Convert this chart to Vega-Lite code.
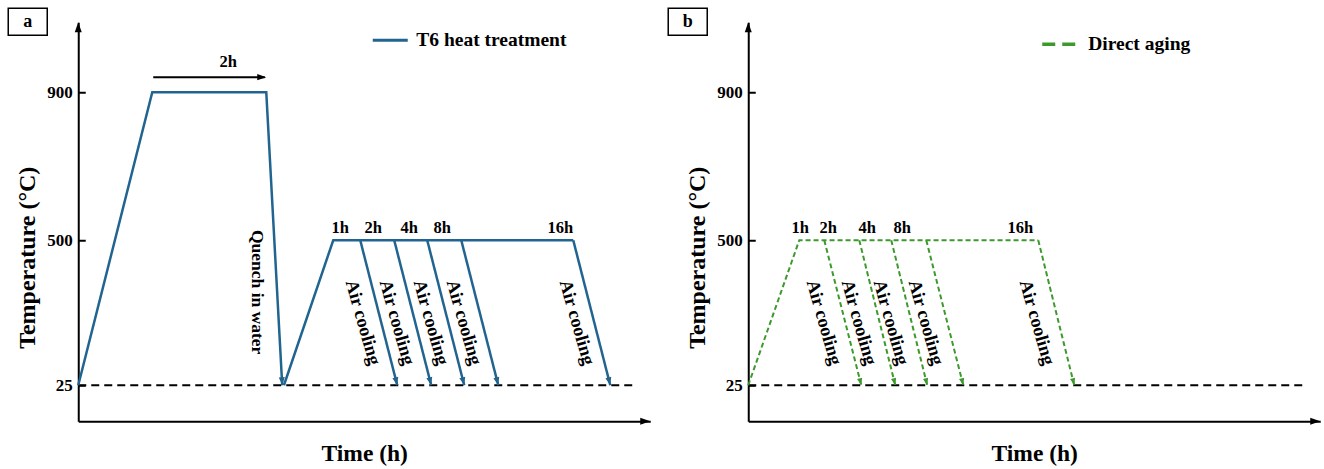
{
  "$schema": "https://vega.github.io/schema/vega-lite/v6.json",
  "background": "white",
  "padding": {"left": 7.25, "top": 7.25, "right": 2, "bottom": 2},
  "bounds": "flush",
  "spacing": 98,
  "config": {
    "view": {"stroke": null},
    "font": "Liberation Serif",
    "axis": {"labelFont": "Liberation Serif", "titleFont": "Liberation Serif", "labelFontWeight": "bold", "titleFontWeight": "bold", "labelColor": "black", "titleColor": "black", "domainColor": "black", "tickColor": "black", "grid": false},
    "text": {"font": "Liberation Serif", "fontWeight": "bold", "color": "black"}
  },
  "datasets": {
    "pathA": [
      {"seg": "solution", "ord": 1, "t": 0, "T": 25, "process": "T6 heat treatment"},
      {"seg": "solution", "ord": 2, "t": 12.94, "T": 900, "process": "T6 heat treatment"},
      {"seg": "solution", "ord": 3, "t": 32.87, "T": 900, "process": "T6 heat treatment"},
      {"seg": "solution", "ord": 4, "t": 35.66, "T": 25, "process": "T6 heat treatment"},
      {"seg": "aging", "ord": 1, "t": 35.96, "T": 25, "process": "T6 heat treatment"},
      {"seg": "aging", "ord": 2, "t": 44.58, "T": 500, "process": "T6 heat treatment"},
      {"seg": "aging", "ord": 3, "t": 86.54, "T": 500, "process": "T6 heat treatment"},
      {"seg": "cool1", "ord": 1, "t": 49.3, "T": 500, "process": "T6 heat treatment"},
      {"seg": "cool1", "ord": 2, "t": 55.77, "T": 25, "process": "T6 heat treatment"},
      {"seg": "cool2", "ord": 1, "t": 55.24, "T": 500, "process": "T6 heat treatment"},
      {"seg": "cool2", "ord": 2, "t": 61.71, "T": 25, "process": "T6 heat treatment"},
      {"seg": "cool4", "ord": 1, "t": 61.01, "T": 500, "process": "T6 heat treatment"},
      {"seg": "cool4", "ord": 2, "t": 67.48, "T": 25, "process": "T6 heat treatment"},
      {"seg": "cool8", "ord": 1, "t": 66.96, "T": 500, "process": "T6 heat treatment"},
      {"seg": "cool8", "ord": 2, "t": 73.43, "T": 25, "process": "T6 heat treatment"},
      {"seg": "cool16", "ord": 1, "t": 86.54, "T": 500, "process": "T6 heat treatment"},
      {"seg": "cool16", "ord": 2, "t": 93.01, "T": 25, "process": "T6 heat treatment"}
    ],
    "pathB": [
      {"seg": "aging", "ord": 1, "t": 0, "T": 25, "process": "Direct aging"},
      {"seg": "aging", "ord": 2, "t": 8.92, "T": 500, "process": "Direct aging"},
      {"seg": "aging", "ord": 3, "t": 50.7, "T": 500, "process": "Direct aging"},
      {"seg": "cool1", "ord": 1, "t": 13.29, "T": 500, "process": "Direct aging"},
      {"seg": "cool1", "ord": 2, "t": 19.76, "T": 25, "process": "Direct aging"},
      {"seg": "cool2", "ord": 1, "t": 19.41, "T": 500, "process": "Direct aging"},
      {"seg": "cool2", "ord": 2, "t": 25.7, "T": 25, "process": "Direct aging"},
      {"seg": "cool4", "ord": 1, "t": 25.0, "T": 500, "process": "Direct aging"},
      {"seg": "cool4", "ord": 2, "t": 31.29, "T": 25, "process": "Direct aging"},
      {"seg": "cool8", "ord": 1, "t": 31.12, "T": 500, "process": "Direct aging"},
      {"seg": "cool8", "ord": 2, "t": 37.59, "T": 25, "process": "Direct aging"},
      {"seg": "cool16", "ord": 1, "t": 50.7, "T": 500, "process": "Direct aging"},
      {"seg": "cool16", "ord": 2, "t": 56.99, "T": 25, "process": "Direct aging"}
    ]
  },
  "resolve": {"scale": {"x": "independent", "y": "independent", "color": "independent"}, "axis": {"x": "independent", "y": "independent"}, "legend": {"color": "independent"}},
  "hconcat": [
    {
      "width": 572,
      "height": 399,
      "encoding": {
        "x": {"field": "t", "type": "quantitative", "scale": {"domain": [0, 100], "nice": false, "zero": false}, "axis": {"title": "Time (h)", "labels": false, "ticks": false, "domainWidth": 2, "titleFontSize": 23.5, "titlePadding": 20}},
        "y": {"field": "T", "type": "quantitative", "scale": {"domain": [-100, 25, 500, 900, 1100], "range": [399, 363, 218, 70, 0], "nice": false, "zero": false}, "axis": {"title": "Temperature (°C)", "values": [25, 500, 900], "tickSize": -7, "tickWidth": 2, "labelFontSize": 17, "labelPadding": 13, "domainWidth": 2, "titleFontSize": 24, "titlePadding": 7, "titleY": 235}}
      },
      "layer": [
        {"data": {"values": [{"t": 0, "t2": 96.85, "T": 25}]}, "mark": {"type": "rule", "color": "black", "strokeWidth": 2, "strokeDash": [8, 5]}, "encoding": {"x2": {"field": "t2"}}},
        {"data": {"name": "pathA"}, "mark": {"type": "line", "strokeWidth": 2.5}, "encoding": {
          "color": {"field": "process", "type": "nominal", "scale": {"domain": ["T6 heat treatment"], "range": ["#21648f"]}, "legend": {"title": null, "orient": "none", "legendX": 293, "legendY": -1, "symbolType": "stroke", "symbolSize": 1225, "symbolStrokeWidth": 3, "labelFont": "Liberation Serif", "labelFontSize": 19.5, "labelFontWeight": "bold", "labelColor": "black", "labelOffset": 7}},
          "detail": {"field": "seg"},
          "order": {"field": "ord"}}},
        {"data": {"values": [{"t": 55.77, "T": 25}, {"t": 61.71, "T": 25}, {"t": 67.48, "T": 25}, {"t": 73.43, "T": 25}, {"t": 93.01, "T": 25}]}, "mark": {"type": "point", "shape": "M0,0L-0.75,-2L0.75,-2Z", "size": 64, "filled": true, "opacity": 1, "color": "#21648f", "angle": -14}},
        {"data": {"values": [{"t": 35.66, "T": 25}]}, "mark": {"type": "point", "shape": "M0,0L-0.75,-2L0.75,-2Z", "size": 64, "filled": true, "opacity": 1, "color": "#21648f", "angle": -3}},
        {"data": {"values": [{"t": 13.11, "t2": 32.6, "T": 943}]}, "mark": {"type": "rule", "color": "black", "strokeWidth": 2}, "encoding": {"x2": {"field": "t2"}}},
        {"data": {"values": [{"t": 32.87, "T": 943}]}, "mark": {"type": "point", "shape": "M0,0L-0.7,-2L0.7,-2Z", "size": 81, "filled": true, "opacity": 1, "color": "black", "angle": -90}},
        {"data": {"values": [{"t": 0, "T": 1100}]}, "mark": {"type": "point", "shape": "M0,0L-0.7,-2L0.7,-2Z", "size": 100, "filled": true, "opacity": 1, "color": "black", "angle": 180}},
        {"data": {"values": [{"t": 100, "T": -100}]}, "mark": {"type": "point", "shape": "M0,0L-0.7,-2L0.7,-2Z", "size": 100, "filled": true, "opacity": 1, "color": "black", "angle": -90}},
        {"data": {"values": [{"t": 45.8, "T": 500, "label": "1h"}, {"t": 51.57, "T": 500, "label": "2h"}, {"t": 57.87, "T": 500, "label": "4h"}, {"t": 63.64, "T": 500, "label": "8h"}, {"t": 84.27, "T": 500, "label": "16h"}]}, "mark": {"type": "text", "fontSize": 16.5, "dy": -12}, "encoding": {"text": {"field": "label"}}},
        {"data": {"values": [{"t": 49.83, "T": 231, "label": "Air cooling"}, {"t": 55.77, "T": 231, "label": "Air cooling"}, {"t": 61.71, "T": 231, "label": "Air cooling"}, {"t": 67.48, "T": 231, "label": "Air cooling"}, {"t": 87.24, "T": 231, "label": "Air cooling"}]}, "mark": {"type": "text", "fontSize": 18.5, "angle": 74}, "encoding": {"text": {"field": "label"}}},
        {"data": {"values": [{"t": 31.29, "T": 330, "label": "Quench in water"}]}, "mark": {"type": "text", "fontSize": 17.5, "angle": 90}, "encoding": {"text": {"field": "label"}}},
        {"data": {"values": [{"t": 26.22, "T": 986, "label": "2h"}]}, "mark": {"type": "text", "fontSize": 16.5}, "encoding": {"text": {"field": "label"}}},
        {"data": {"values": [{"t": -12.24, "t2": -5.42, "T": 1063, "T2": 1140}]}, "mark": {"type": "rect", "fill": "white", "stroke": "black", "strokeWidth": 1.5}, "encoding": {"x2": {"field": "t2"}, "y2": {"field": "T2"}}},
        {"data": {"values": [{"t": -8.83, "T": 1101.5, "label": "a"}]}, "mark": {"type": "text", "fontSize": 18}, "encoding": {"text": {"field": "label"}}}
      ]
    },
    {
      "width": 572,
      "height": 399,
      "encoding": {
        "x": {"field": "t", "type": "quantitative", "scale": {"domain": [0, 100], "nice": false, "zero": false}, "axis": {"title": "Time (h)", "labels": false, "ticks": false, "domainWidth": 2, "titleFontSize": 23.5, "titlePadding": 20}},
        "y": {"field": "T", "type": "quantitative", "scale": {"domain": [-100, 25, 500, 900, 1100], "range": [399, 363, 218, 70, 0], "nice": false, "zero": false}, "axis": {"title": "Temperature (°C)", "values": [25, 500, 900], "tickSize": -7, "tickWidth": 2, "labelFontSize": 17, "labelPadding": 13, "domainWidth": 2, "titleFontSize": 24, "titlePadding": 7, "titleY": 235}}
      },
      "layer": [
        {"data": {"values": [{"t": 0, "t2": 97.03, "T": 25}]}, "mark": {"type": "rule", "color": "black", "strokeWidth": 2, "strokeDash": [8, 5]}, "encoding": {"x2": {"field": "t2"}}},
        {"data": {"name": "pathB"}, "mark": {"type": "line", "strokeWidth": 2, "strokeDash": [5, 3]}, "encoding": {
          "color": {"field": "process", "type": "nominal", "scale": {"domain": ["Direct aging"], "range": ["#3c9a2c"]}, "legend": {"title": null, "orient": "none", "legendX": 292, "legendY": 3, "symbolType": "stroke", "symbolSize": 1156, "symbolStrokeWidth": 3.5, "symbolDash": [13, 7], "labelFont": "Liberation Serif", "labelFontSize": 19.5, "labelFontWeight": "bold", "labelColor": "black", "labelOffset": 10}},
          "detail": {"field": "seg"},
          "order": {"field": "ord"}}},
        {"data": {"values": [{"t": 19.76, "T": 25}, {"t": 25.7, "T": 25}, {"t": 31.29, "T": 25}, {"t": 37.59, "T": 25}, {"t": 56.99, "T": 25}]}, "mark": {"type": "point", "shape": "M0,0L-0.75,-2L0.75,-2Z", "size": 49, "filled": true, "opacity": 1, "color": "#3c9a2c", "angle": -14}},
        {"data": {"values": [{"t": 0, "T": 1100}]}, "mark": {"type": "point", "shape": "M0,0L-0.7,-2L0.7,-2Z", "size": 100, "filled": true, "opacity": 1, "color": "black", "angle": 180}},
        {"data": {"values": [{"t": 100, "T": -100}]}, "mark": {"type": "point", "shape": "M0,0L-0.7,-2L0.7,-2Z", "size": 100, "filled": true, "opacity": 1, "color": "black", "angle": -90}},
        {"data": {"values": [{"t": 9.09, "T": 500, "label": "1h"}, {"t": 13.99, "T": 500, "label": "2h"}, {"t": 20.8, "T": 500, "label": "4h"}, {"t": 26.92, "T": 500, "label": "8h"}, {"t": 47.55, "T": 500, "label": "16h"}]}, "mark": {"type": "text", "fontSize": 16.5, "dy": -12}, "encoding": {"text": {"field": "label"}}},
        {"data": {"values": [{"t": 13.29, "T": 231, "label": "Air cooling"}, {"t": 19.41, "T": 231, "label": "Air cooling"}, {"t": 25.0, "T": 231, "label": "Air cooling"}, {"t": 31.12, "T": 231, "label": "Air cooling"}, {"t": 50.52, "T": 231, "label": "Air cooling"}]}, "mark": {"type": "text", "fontSize": 18.5, "angle": 74}, "encoding": {"text": {"field": "label"}}},
        {"data": {"values": [{"t": -13.99, "t2": -7.17, "T": 1063, "T2": 1140}]}, "mark": {"type": "rect", "fill": "white", "stroke": "black", "strokeWidth": 1.5}, "encoding": {"x2": {"field": "t2"}, "y2": {"field": "T2"}}},
        {"data": {"values": [{"t": -10.58, "T": 1101.5, "label": "b"}]}, "mark": {"type": "text", "fontSize": 18}, "encoding": {"text": {"field": "label"}}}
      ]
    }
  ]
}
